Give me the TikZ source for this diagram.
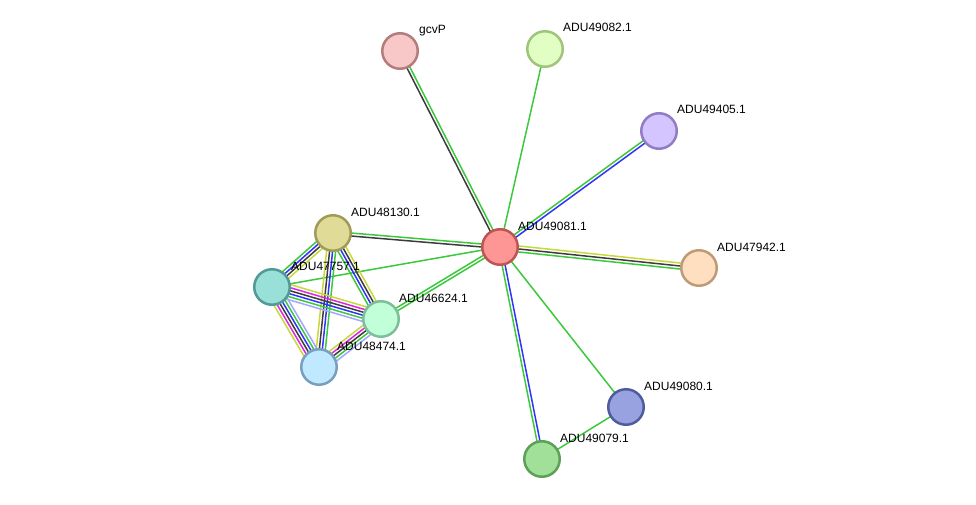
\documentclass[tikz,border=0pt]{standalone}
\usepackage{fontspec}
\setmainfont{Liberation Sans}
\usetikzlibrary{calc,backgrounds}

% edge colours
\definecolor{egreen}{RGB}{60,200,60}
\definecolor{eblack}{RGB}{60,60,60}
\definecolor{eblue}{RGB}{50,50,250}
\definecolor{eyellow}{RGB}{200,215,60}
\definecolor{emagenta}{RGB}{220,40,220}
\definecolor{elblue}{RGB}{165,165,255}

% protein colours (fill / rim)
\definecolor{f081}{RGB}{255,150,150}\definecolor{d081}{RGB}{190,85,85}
\definecolor{fgcv}{RGB}{248,200,200}\definecolor{dgcv}{RGB}{180,125,125}
\definecolor{f082}{RGB}{225,255,195}\definecolor{d082}{RGB}{160,195,125}
\definecolor{f405}{RGB}{212,196,255}\definecolor{d405}{RGB}{145,125,195}
\definecolor{f942}{RGB}{255,223,192}\definecolor{d942}{RGB}{190,155,120}
\definecolor{f080}{RGB}{152,162,224}\definecolor{d080}{RGB}{80,92,160}
\definecolor{f079}{RGB}{160,224,152}\definecolor{d079}{RGB}{95,160,88}
\definecolor{f130}{RGB}{224,220,152}\definecolor{d130}{RGB}{160,155,88}
\definecolor{f757}{RGB}{152,224,216}\definecolor{d757}{RGB}{80,155,150}
\definecolor{f624}{RGB}{192,255,216}\definecolor{d624}{RGB}{125,190,155}
\definecolor{f474}{RGB}{192,232,255}\definecolor{d474}{RGB}{120,160,190}

% several parallel lines between two nodes
\newcommand\bond[3]{%
  \foreach \c [count=\i] in {#3} {\xdef\bondn{\i}}%
  \foreach \c [count=\i] in {#3} {%
    \pgfmathsetmacro\off{((\bondn+1)/2-\i)*3}%
    \draw[edge,\c] ($(#1)!\off pt!90:(#2)$) -- ($(#2)!\off pt!-90:(#1)$);
  }%
}

\tikzset{
  prot/.style={circle,draw=d#1,fill=f#1,line width=2.5pt,minimum size=35.5pt,inner sep=0pt},
  lbl/.style={anchor=base west,inner sep=0pt,font=\fontsize{12}{14}\selectfont},
  edge/.style={line width=1.5pt}
}

\begin{document}
\begin{tikzpicture}[x=1pt,y=-1pt]
    \useasboundingbox (0,0) rectangle (976,505);

    % proteins
    \node[prot=081] (c081) at (500,247) {};
    \node[prot=gcv] (gcvP) at (400,51) {};
    \node[prot=082] (c082) at (545,49) {};
    \node[prot=405] (c405) at (659,131) {};
    \node[prot=942] (c942) at (699,268) {};
    \node[prot=080] (c080) at (626,407) {};
    \node[prot=079] (c079) at (542,459) {};
    \node[prot=130] (c130) at (333,233) {};
    \node[prot=757] (c757) at (272,287) {};
    \node[prot=624] (c624) at (381,319) {};
    \node[prot=474] (c474) at (319,367) {};

    % names
    \node[lbl] (l081) at ([shift={(18,-17)}]c081.center) {ADU49081.1};
    \node[lbl] (lgcv) at ([shift={(19,-17)}]gcvP.center) {gcvP};
    \node[lbl] (l082) at ([shift={(18,-17)}]c082.center) {ADU49082.1};
    \node[lbl] (l405) at ([shift={(18,-17)}]c405.center) {ADU49405.1};
    \node[lbl] (l942) at ([shift={(18,-17)}]c942.center) {ADU47942.1};
    \node[lbl] (l080) at ([shift={(18,-17)}]c080.center) {ADU49080.1};
    \node[lbl] (l079) at ([shift={(18,-17)}]c079.center) {ADU49079.1};
    \node[lbl] (l130) at ([shift={(18,-17)}]c130.center) {ADU48130.1};
    \node[lbl] (l757) at ([shift={(19,-17)}]c757.center) {ADU47757.1};
    \node[lbl] (l624) at ([shift={(18,-17)}]c624.center) {ADU46624.1};
    \node[lbl] (l474) at ([shift={(18,-17)}]c474.center) {ADU48474.1};

    % interactions
    \begin{pgfonlayer}{background}
    \bond{c081}{gcvP}{eblack,egreen}
    \bond{c081}{c082}{egreen}
    \bond{c081}{c405}{egreen,eblue}
    \bond{c081}{c942}{eyellow,eblack,egreen}
    \bond{c081}{c080}{egreen}
    \bond{c081}{c079}{eblue,egreen}
    \bond{c080}{c079}{egreen}
    \bond{c081}{c130}{eblack,egreen}
    \bond{c081}{c757}{egreen}
    \bond{c081}{c624}{egreen,egreen}
    \bond{c130}{c757}{eyellow,eblack,eblue,egreen}
    \bond{c130}{c624}{eyellow,eblack,eblue,egreen}
    \bond{c130}{c474}{egreen,eblue,eblack,eyellow}
    \bond{c757}{c624}{eyellow,emagenta,eblack,eblue,egreen,elblue}
    \bond{c757}{c474}{elblue,egreen,eblue,eblack,emagenta,eyellow}
    \bond{c624}{c474}{elblue,egreen,eblack,emagenta,eyellow}
    \end{pgfonlayer}
\end{tikzpicture}
\end{document}
